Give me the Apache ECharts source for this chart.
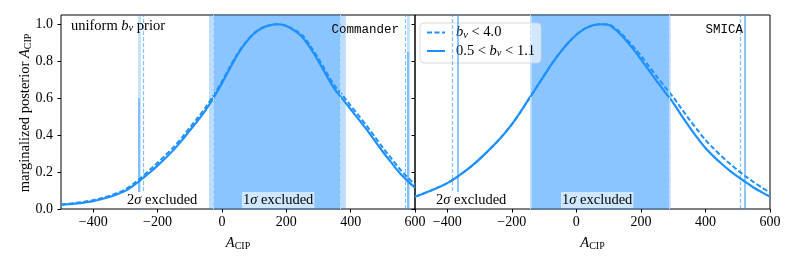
<!DOCTYPE html>
<html><head><meta charset="utf-8">
<script src="https://cdn.jsdelivr.net/npm/echarts@6/dist/echarts.min.js"></script>
<style>html,body{margin:0;padding:0;background:#fff}#c{width:797px;height:266px}</style>
</head><body><div id="c"></div>
<script>
// ---- data ----
const xValues = [-500,-475,-450,-425,-400,-375,-350,-325,-300,-275,-250,-225,-200,-175,-150,-125,-100,-75,-50,-25,0,25,50,75,100,125,150,175,200,225,250,275,300,325,350,375,400,425,450,475,500,525,550,575,600];
const commanderDashed = [0.025,0.029,0.034,0.040,0.048,0.059,0.071,0.087,0.106,0.136,0.172,0.210,0.250,0.292,0.335,0.385,0.440,0.494,0.552,0.618,0.690,0.770,0.845,0.905,0.952,0.981,0.995,1.000,0.992,0.970,0.940,0.882,0.815,0.738,0.668,0.614,0.560,0.505,0.450,0.391,0.332,0.277,0.222,0.175,0.132];
const commanderSolid  = [0.022,0.026,0.030,0.036,0.043,0.053,0.065,0.080,0.098,0.126,0.160,0.196,0.235,0.276,0.320,0.370,0.424,0.478,0.537,0.605,0.680,0.762,0.840,0.902,0.950,0.980,0.995,1.000,0.990,0.965,0.930,0.870,0.800,0.722,0.650,0.595,0.540,0.485,0.430,0.370,0.310,0.255,0.200,0.155,0.115];
const smicaDashed = [0.067,0.083,0.100,0.119,0.140,0.167,0.198,0.232,0.270,0.312,0.356,0.404,0.458,0.520,0.588,0.655,0.722,0.788,0.848,0.900,0.943,0.975,0.993,1.000,0.998,0.972,0.930,0.882,0.830,0.772,0.715,0.660,0.605,0.545,0.485,0.428,0.374,0.328,0.285,0.246,0.210,0.176,0.145,0.116,0.089];
const smicaSolid  = [0.067,0.083,0.100,0.119,0.140,0.167,0.198,0.232,0.270,0.312,0.356,0.404,0.458,0.520,0.588,0.655,0.722,0.788,0.848,0.900,0.943,0.975,0.993,1.000,0.996,0.965,0.920,0.868,0.810,0.750,0.690,0.632,0.575,0.508,0.445,0.385,0.330,0.285,0.245,0.208,0.175,0.145,0.115,0.090,0.067];
const xTicks = [-400,-200,0,200,400,600];
const yTicks = [0,0.2,0.4,0.6,0.8,1.0];
const commander1SigmaDashed = [-27, 369];
const commander1SigmaSolid  = [-40, 385];
const commander2SigmaDashed = [-243, 571];
const commander2SigmaSolid  = [-257, 579];
const commander2SigmaSolidTop = [0.6, 0.85];
const smica1SigmaDashed = [-143, 288];
const smica1SigmaSolid  = [-138, 292];
const smica2SigmaDashed = [-384, 509];
const smica2SigmaSolid  = [-368, 522];
const legendNames = ['dashed','solid'];

const BLUE = '#1E90FF';
const SERIF = '"Liberation Serif", "DejaVu Serif", serif';
const MONO = '"Liberation Mono", "DejaVu Sans Mono", monospace';
const pairs = (ys) => xValues.map((x, i) => [x, ys[i]]);
const minus = (v) => String(v).replace('-', '\u2212');

const rich = {
  n: {fontFamily: SERIF, fontSize: 14.5, color: '#000', lineHeight: 16},
  i: {fontFamily: SERIF, fontSize: 14.5, fontStyle: 'italic', color: '#000', lineHeight: 16},
  s: {fontFamily: SERIF, fontSize: 10.5, fontStyle: 'italic', color: '#000', lineHeight: 9, verticalAlign: 'bottom'},
  r: {fontFamily: SERIF, fontSize: 10, color: '#000', lineHeight: 9, verticalAlign: 'bottom'},
  g: {width: 6, lineHeight: 16}
};

function panelSeries(xi, dashedY, solidY, b1d, b1s, b2d, b2s, partialTop) {
  const dashLine = {type: [4, 2], color: '#c4e1ff', width: 1};
  const s2dash = {type: [4, 2], color: 'rgba(30,144,255,0.55)', width: 1.2};
  const solidMarks = partialTop ? [
    {xAxis: b2s[0], lineStyle: {color: 'rgba(30,144,255,0.25)', width: 3, type: 'solid'}},
    {xAxis: b2s[1], lineStyle: {color: 'rgba(30,144,255,0.25)', width: 3, type: 'solid'}},
    [{coord: [b2s[0], 0], lineStyle: {color: 'rgba(30,144,255,0.55)', width: 1.5, type: 'solid'}}, {coord: [b2s[0], partialTop[0]]}],
    [{coord: [b2s[1], 0], lineStyle: {color: 'rgba(30,144,255,0.55)', width: 1.5, type: 'solid'}}, {coord: [b2s[1], partialTop[1]]}]
  ] : [
    {xAxis: b2s[0], lineStyle: {color: 'rgba(30,144,255,0.5)', width: 2, type: 'solid'}},
    {xAxis: b2s[1], lineStyle: {color: 'rgba(30,144,255,0.5)', width: 2, type: 'solid'}}
  ];
  return [
    {
      name: 'dashed', type: 'line', xAxisIndex: xi, yAxisIndex: xi, data: pairs(dashedY),
      smooth: 0.3, symbol: 'none', z: 3,
      lineStyle: {color: BLUE, width: 2, type: [5, 2.5]}, itemStyle: {color: BLUE},
      markArea: {silent: true, z: 1, itemStyle: {color: 'rgba(30,144,255,0.3)'}, data: [[{xAxis: b1d[0]}, {xAxis: b1d[1]}]]},
      markLine: {silent: true, symbol: 'none', label: {show: false}, animation: false,
        data: [
          {xAxis: b1d[0], lineStyle: dashLine}, {xAxis: b1d[1], lineStyle: dashLine},
          {xAxis: b2d[0], lineStyle: s2dash}, {xAxis: b2d[1], lineStyle: s2dash}
        ]}
    },
    {
      name: 'solid', type: 'line', xAxisIndex: xi, yAxisIndex: xi, data: pairs(solidY),
      smooth: 0.3, symbol: 'none', z: 3,
      lineStyle: {color: BLUE, width: 2.2, type: 'solid'}, itemStyle: {color: BLUE},
      markArea: {silent: true, z: 1, itemStyle: {color: 'rgba(30,144,255,0.3)'}, data: [[{xAxis: b1s[0]}, {xAxis: b1s[1]}]]},
      markLine: {silent: true, symbol: 'none', label: {show: false}, animation: false, data: solidMarks}
    }
  ];
}

function xAxisCfg(gi) {
  return {
    type: 'value', gridIndex: gi, min: -500, max: 600,
    axisLine: {show: false, onZero: false}, splitLine: {show: false},
    axisTick: {show: true, length: 3.5, lineStyle: {color: '#000'}, customValues: xTicks},
    axisLabel: {color: '#000', fontFamily: SERIF, fontSize: 14, margin: 6, customValues: xTicks, formatter: minus},
    name: '{i|A}{r|CIP}', nameLocation: 'middle', nameGap: 26,
    nameTextStyle: {rich: rich}
  };
}
function yAxisCfg(gi, showLabels) {
  return {
    type: 'value', gridIndex: gi, min: 0, max: 1.05,
    axisLine: {show: false, onZero: false}, splitLine: {show: false},
    axisTick: {show: true, length: 3.5, lineStyle: {color: '#000'}, customValues: yTicks},
    axisLabel: {show: showLabels, color: '#000', fontFamily: SERIF, fontSize: 14, margin: 8, customValues: yTicks,
      formatter: (v) => v.toFixed(1)}
  };
}

function txt(x, y, text, extra) {
  return {
    type: 'text', x: x, y: y, z: 50,
    style: Object.assign({text: text, fontFamily: SERIF, fontSize: 14.5, fill: '#000', align: 'left', verticalAlign: 'middle', rich: rich}, extra || {})
  };
}

const chart = echarts.init(document.getElementById('c'), null, {renderer: 'canvas'});
chart.setOption({
  animation: false,
  backgroundColor: '#fff',
  grid: [
    {left: 61, top: 15, width: 354, height: 194, show: true, borderColor: '#000', borderWidth: 1, backgroundColor: 'transparent'},
    {left: 415, top: 15, width: 355, height: 194, show: true, borderColor: '#000', borderWidth: 1, backgroundColor: 'transparent'}
  ],
  xAxis: [xAxisCfg(0), xAxisCfg(1)],
  yAxis: [yAxisCfg(0, true), yAxisCfg(1, false)],
  legend: {
    data: legendNames, left: 420, top: 23, orient: 'vertical', itemGap: 3,
    itemWidth: 18, itemHeight: 16,
    padding: [2, 6, 4, 6],
    backgroundColor: 'rgba(255,255,255,0.6)', borderColor: 'rgba(210,210,210,0.8)', borderWidth: 1, borderRadius: 4,
    itemStyle: {opacity: 0, color: 'rgba(0,0,0,0)', borderWidth: 0},
    textStyle: {fontFamily: SERIF, fontSize: 14.5, color: '#000', rich: rich},
    formatter: (n) => n === 'dashed' ? '{g|}{i|b}{s|v}{n| < 4.0}' : '{g|}{n|0.5 < }{i|b}{s|v}{n| < 1.1}'
  },
  series: [].concat(
    panelSeries(0, commanderDashed, commanderSolid, commander1SigmaDashed, commander1SigmaSolid, commander2SigmaDashed, commander2SigmaSolid, commander2SigmaSolidTop),
    panelSeries(1, smicaDashed, smicaSolid, smica1SigmaDashed, smica1SigmaSolid, smica2SigmaDashed, smica2SigmaSolid, null)
  ),
  graphic: [
    txt(71, 26, '{n|uniform }{i|b}{s|v}{n| prior}'),
    txt(399, 30, 'Commander', {fontFamily: MONO, fontSize: 12.5, align: 'right', rich: null}),
    txt(743, 30, 'SMICA', {fontFamily: MONO, fontSize: 12.5, align: 'right', rich: null}),
    txt(126, 200, '{n|2}{i|σ}{n| excluded}', {backgroundColor: '#fff', padding: [0, 1, 0, 1]}),
    txt(242, 200, '{n|1}{i|σ}{n| excluded}', {backgroundColor: 'rgba(255,255,255,0.6)', padding: [0, 1, 0, 1]}),
    txt(435, 200, '{n|2}{i|σ}{n| excluded}', {backgroundColor: '#fff', padding: [0, 1, 0, 1]}),
    txt(561, 200, '{n|1}{i|σ}{n| excluded}', {backgroundColor: 'rgba(255,255,255,0.6)', padding: [0, 1, 0, 1]}),
    Object.assign(txt(25, 113, '{n|marginalized posterior }{i|A}{r|CIP}', {align: 'center'}), {rotation: Math.PI / 2})
  ]
});
</script></body></html>
